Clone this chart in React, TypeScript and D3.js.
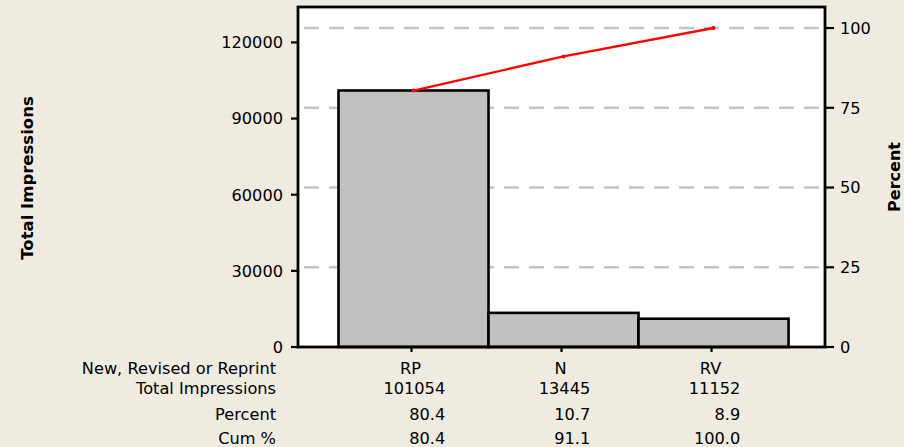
import React from "react";
import * as d3 from "d3";

const categories = ["RP", "N", "RV"];
const totals = [101054, 13445, 11152];
const percents = ["80.4", "10.7", "8.9"];
const cumPercents = [80.4, 91.1, 100.0];
const cumLabels = ["80.4", "91.1", "100.0"];
const leftTicks = [0, 30000, 60000, 90000, 120000];
const rightTicks = [0, 25, 50, 75, 100];
const rowLabels = ["New, Revised or Reprint", "Total Impressions", "Percent", "Cum %"];

const W = 904, H = 447;
const L = 298, R = 825, T = 7, B = 347;
const FONT = "'DejaVu Sans', Verdana, sans-serif";
const FS = 16.2;
const DIGIT = 9.9;

export default function App() {
  const grand = d3.sum(totals);
  const pMax = 106.6;
  const yP = d3.scaleLinear().domain([0, pMax]).range([B, T]);
  const yL = d3.scaleLinear().domain([0, (grand * pMax) / 100]).range([B, T]);
  const x = d3.scaleLinear().domain([0.23, 3.743]).range([L, R]);
  const step = x(2) - x(1);
  const line = d3.line<number>().x((_, i) => x(i + 1)).y((d) => yP(d));

  const rowY = [374, 394, 420, 444];
  const cols = categories.map((c, i) => {
    const strs = [String(totals[i]), percents[i], cumLabels[i]];
    const maxW = d3.max(strs, (s) => s.length * DIGIT)!;
    const center = x(i + 1) + 2;
    return { right: center + maxW / 2, center };
  });

  return (
    <svg width={W} height={H} style={{ position: "absolute", left: 0, top: 0 }} fontFamily={FONT}>
      <rect x={0} y={0} width={W} height={H} fill="#efebe1" />
      <rect x={L} y={T} width={R - L} height={B - T} fill="#ffffff" />
      {rightTicks.filter((t) => t > 0).map((t) => (
        <line key={t} x1={L} x2={R} y1={yP(t)} y2={yP(t)} stroke="#c4c4c4" strokeWidth={2.5} strokeDasharray="15 10" strokeDashoffset={-6} />
      ))}
      {totals.map((v, i) => (
        <rect key={i} x={x(i + 1) - step / 2} y={yL(v)} width={step} height={B - yL(v)} fill="#c0c0c0" stroke="#000" strokeWidth={2.6} />
      ))}
      <path d={line(cumPercents) || ""} fill="none" stroke="#ff0000" strokeWidth={2.4} />
      {cumPercents.map((p, i) => (
        <circle key={i} cx={x(i + 1)} cy={yP(p)} r={2} fill="#ff0000" />
      ))}
      <rect x={L} y={T} width={R - L} height={B - T} fill="none" stroke="#000" strokeWidth={2.8} />
      {leftTicks.map((t) => (
        <g key={t}>
          <line x1={L - 7} x2={L} y1={yL(t)} y2={yL(t)} stroke="#000" strokeWidth={2.2} />
          <text x={L - 15} y={yL(t)} dy="0.36em" textAnchor="end" fontSize={FS} fill="#000">{t}</text>
        </g>
      ))}
      {rightTicks.map((t) => (
        <g key={t}>
          <line x1={R} x2={R + 9} y1={yP(t)} y2={yP(t)} stroke="#000" strokeWidth={2.2} />
          <text x={R + 15} y={yP(t)} dy="0.36em" textAnchor="start" fontSize={FS} fill="#000">{t}</text>
        </g>
      ))}
      {categories.map((c, i) => (
        <line key={c} x1={x(i + 1) - 2} x2={x(i + 1) - 2} y1={B} y2={B + 5} stroke="#000" strokeWidth={2.2} />
      ))}
      <text transform={`translate(33,178) rotate(-90)`} textAnchor="middle" fontSize={16.5} fontWeight="bold" fill="#000">Total Impressions</text>
      <text transform={`translate(900,177) rotate(-90)`} textAnchor="middle" fontSize={16} fontWeight="bold" fill="#000">Percent</text>
      {rowLabels.map((r, k) => (
        <text key={r} x={276} y={rowY[k]} textAnchor="end" fontSize={FS} fill="#000">{r}</text>
      ))}
      {categories.map((c, i) => (
        <g key={c}>
          <text x={cols[i].center - 5} y={rowY[0]} textAnchor="middle" fontSize={FS} fill="#000">{c}</text>
          <text x={cols[i].right} y={rowY[1]} textAnchor="end" fontSize={FS} fill="#000">{totals[i]}</text>
          <text x={cols[i].right} y={rowY[2]} textAnchor="end" fontSize={FS} fill="#000">{percents[i]}</text>
          <text x={cols[i].right} y={rowY[3]} textAnchor="end" fontSize={FS} fill="#000">{cumLabels[i]}</text>
        </g>
      ))}
    </svg>
  );
}
